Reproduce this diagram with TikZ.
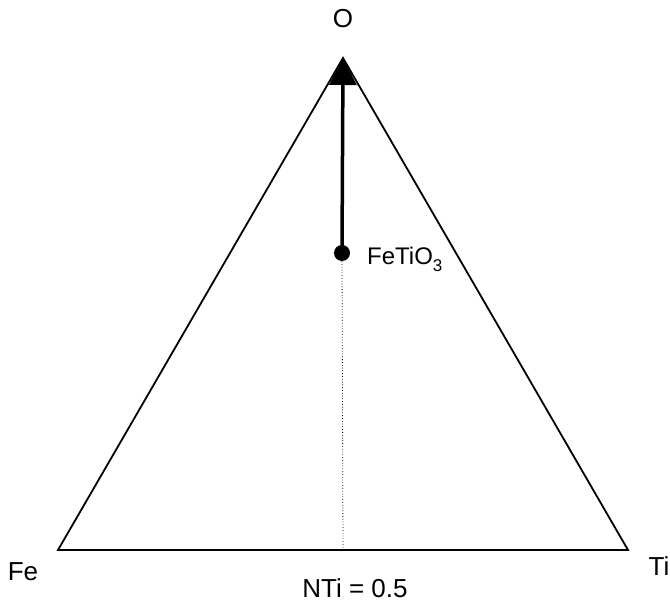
\documentclass[tikz,border=0pt]{standalone}
\usepackage{fontspec}
\setmainfont{Liberation Sans}
\usetikzlibrary{arrows.meta}
\begin{document}
\begin{tikzpicture}[x=1pt,y=-1pt,
  edge/.style={line width=1.8pt, line join=miter},
  lbl/.style={inner sep=0pt, anchor=base, font=\fontsize{26}{30}\selectfont},
  arrowline/.style={line width=3.5pt, -{Triangle[width=27pt,length=27pt]}},
  guide/.style={line width=0.8pt, dotted}]
\useasboundingbox (0,0) rectangle (670,602);
\coordinate (O) at (343,58);
\coordinate (Fe) at (58,550);
\coordinate (Ti) at (628,550);
\coordinate (M) at (343,550);
\draw[edge] (O) -- (Fe) -- (Ti) -- cycle;
\node[circle, fill=black, inner sep=0pt, minimum size=16pt] (ilm) at (342,253) {};
\draw[guide] (ilm) -- (M);
\draw[arrowline] (ilm.center) -- (O);
\node[lbl] (lO) at (343,28) {O};
\node[lbl] (lFe) at (23,580) {Fe};
\node[lbl] (lTi) at (659,575) {Ti};
\node[lbl] (lN) at (355,597) {NTi = 0.5};
\node[lbl, anchor=base west, font=\fontsize{24}{28}\selectfont] (lF) at (367,264) {FeTiO\raisebox{-0.3em}{\fontsize{17}{17}\selectfont 3}};
\end{tikzpicture}
\end{document}
